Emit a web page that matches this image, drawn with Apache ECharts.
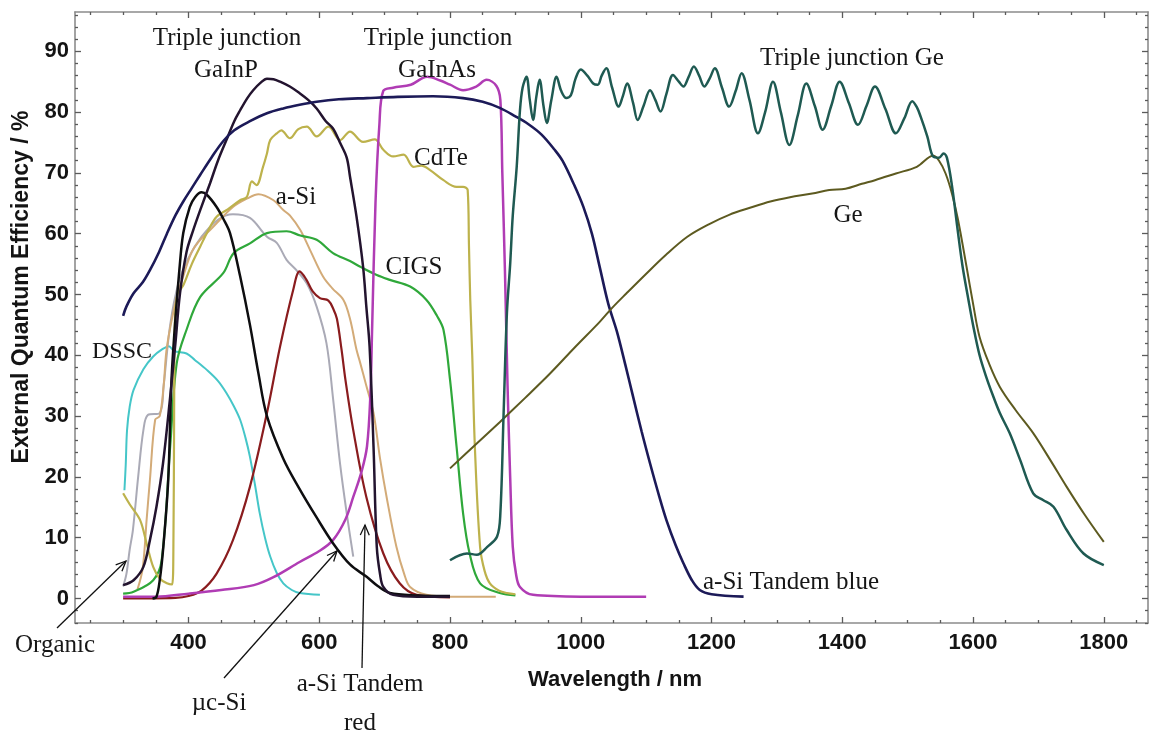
<!DOCTYPE html>
<html>
<head>
<meta charset="utf-8">
<script src="https://cdn.jsdelivr.net/npm/echarts@6/dist/echarts.min.js"></script>
<style>
  html, body { margin: 0; padding: 0; background: #ffffff; }
  #chart { width: 1153px; height: 734px; }
</style>
</head>
<body>
<div id="chart"></div>
<script>
// Axis ranges (wavelength in nm, EQE in %)
const X_MIN = 226.4, X_MAX = 1867.6;
const Y_MIN = -4.03, Y_MAX = 96.46;

// Tick positions
const xMajorTicks = [400, 600, 800, 1000, 1200, 1400, 1600, 1800];
const xMinorTicks = [250, 300, 350, 450, 500, 550, 650, 700, 750, 850, 900, 950, 1050, 1100, 1150,
  1250, 1300, 1350, 1450, 1500, 1550, 1650, 1700, 1750, 1850];
const yMajorTicks = [0, 10, 20, 30, 40, 50, 60, 70, 80, 90];
const yMinorTicks = [-4, -2, 2, 4, 6, 8, 12, 14, 16, 18, 22, 24, 26, 28, 32, 34, 36, 38, 42, 44, 46, 48,
  52, 54, 56, 58, 62, 64, 66, 68, 72, 74, 76, 78, 82, 84, 86, 88, 92, 94, 96];

// EQE spectra: [wavelength nm, EQE %]
const dssc = [[302,17.8],[304,22],[306,27.7],[310,31.5],[316,34.3],[331,37.7],[346,39.8],[360,41],[370,41.5],
  [378,40.7],[397,40.3],[410,39.2],[428,37.6],[445,35.8],[458,33.8],[470,31.5],[479,29.4],[487,26.5],[494,23.3],
  [502,18.5],[509,14],[517,10],[525,6.9],[535,4.2],[545,2.5],[558,1.4],[570,0.9],[601,0.6]];

const organic = [[300,2],[305,4],[310,8],[315,11.3],[323,20],[331,27.7],[338,30.2],[356,30.5],[362,35],[372,45],
  [385,52],[400,56],[420,59.5],[445,62.3],[468,63.2],[494,62.6],[520,59.5],[535,58.5],[550,55.7],[565,54],
  [581,51.8],[596,48],[611,42],[621,33],[632,22],[642,14],[652,6.9]];

const aSi = [[322,1.5],[330,5],[336,13],[341,19.5],[349,29.4],[356,30],[362,35],[367,41.4],[382,49.6],[392,53],
  [405,57],[418,59],[433,60.6],[450,62.5],[468,64.4],[490,65.8],[507,66.5],[530,65.5],[545,63.9],[555,63],
  [571,60.6],[586,57.3],[606,52.9],[620,51],[637,49.1],[647,46],[657,40.9],[662,39],[672,35],[683,30.5],
  [693,23],[703,16.7],[718,8.5],[730,4],[739,1.9],[764,0.6],[800,0.3],[870,0.3]];

const cigs = [[300,0.8],[316,1.1],[346,3],[359,6.3],[372,25],[382,38.7],[397,44.2],[418,49.6],[453,53.5],
  [469,56.8],[494,58.4],[520,60.1],[550,60.4],[571,59.7],[596,59],[621,56.8],[647,55.5],[662,54.6],[688,53.2],
  [708,52.4],[739,51.3],[764,49.1],[780,46.5],[790,44.2],[800,36],[810,25],[820,14],[830,7.4],[846,2.5],
  [876,0.9],[900,0.5]];

const cdte = [[300,17.3],[310,15.5],[326,12.9],[336,9],[346,5.2],[356,3.3],[367,2.5],[375,2.3],[377,10],[378,30],
  [379,45],[383,50],[392,51.5],[405,55],[418,57.9],[430,60.5],[443,62.8],[460,64],[479,65.5],[489,66],
  [497,68.6],[504,68],[514,71],[520,73.2],[525,75.4],[535,76.5],[542,77],[555,75.7],[568,77.2],[581,77.6],
  [596,76],[614,77.6],[632,75.4],[647,76.8],[667,75.1],[685,75.5],[698,73.8],[713,72.7],[729,73],[744,71],
  [756,71.2],[769,70.5],[790,68.8],[810,67.7],[820,67.7],[827,67.2],[829,58],[831,49],[834,40],[838,25],
  [846,8.5],[853,4.5],[861,2.5],[875,1.3],[887,0.9],[900,0.7]];

const aSiTandemRed = [[300,0],[380,0.1],[400,0.4],[420,1.3],[443,4.1],[468,9.6],[494,18.4],[520,30.5],[540,41.4],
  [560,50.7],[570,53.8],[580,52.5],[590,50.5],[601,49.4],[614,49],[622,47.5],[627,46],[634,41],[640,36],
  [652,27.7],[672,16.7],[698,7.4],[723,2.5],[749,0.6],[800,0.2]];

const gaInAs = [[300,0.3],[350,0.3],[400,0.8],[450,1.4],[500,2.2],[530,3.5],[570,6],[600,7.8],[621,9.6],[640,13],
  [652,16.7],[665,21],[673,25],[678,33],[681,45],[686,65],[692,78],[698,83.5],[713,84],[740,84.5],[765,85.8],
  [785,85.2],[800,84.5],[820,83.6],[840,84.2],[856,85.3],[871,84.3],[877,82],[880,70],[884,54],[888,35],
  [892,20],[896,8.5],[901,4],[907,1.9],[927,0.6],[1000,0.3],[1100,0.3]];

const ucSi = [[345,0],[351,0.3],[356,3],[361.5,8.5],[369,19.5],[374,35.9],[380,46],[386,54],[392,60.1],[402,64.4],
  [410,66],[420,66.8],[428,66.4],[443,64.4],[453,62.5],[463.5,60.1],[479,53],[494,45],[507,37],[520,30],
  [545,23],[570,18],[595,13.5],[621,9.1],[647,5.6],[672,3.6],[690,2],[708,0.9],[750,0.5],[800,0.4]];

const gaInP = [[300,2.2],[316,3],[331,5.2],[341,9.6],[351,15.1],[361,22.2],[372,33.2],[380,42],[387,50.2],[397,57],
  [407,60.5],[420,64.5],[433,68.3],[445,72],[458,75.4],[470,78.5],[479,80.3],[490,82.3],[499,83.6],[510,84.8],
  [520,85.5],[530,85.4],[540,85],[555,84.2],[570,83.1],[583,82],[596,80.6],[610,78.5],[621,77.3],[632,74.9],
  [642,72.5],[647,69.4],[657,62.8],[667,54.6],[672,48],[677,41.4],[683,25],[688,8.5],[693,4],[698,1.9],
  [713,0.6],[750,0.3],[800,0.3]];

const aSiTandemBlue = [[300,46.5],[305,48],[316,50.2],[330,52],[341,54],[355,57],[367,60],[380,63],[392,65.3],
  [405,67.5],[418,69.7],[435,72.5],[453,75.2],[470,77],[494,78.5],[520,79.8],[545,80.6],[570,81.2],[596,81.7],
  [630,82.1],[673,82.3],[720,82.5],[774,82.6],[820,82.3],[850,81.7],[876,80.7],[900,79.3],[920,78],[940,76.3],
  [960,73.8],[972,72],[990,68],[1004,64.4],[1017,60],[1029,54.5],[1042,48.5],[1055,44],[1068,38.5],[1080,33.2],
  [1093,27.5],[1106,22.2],[1120,16.8],[1131,12.9],[1145,8.8],[1157,5.8],[1170,3],[1182,1.4],[1200,0.7],[1249,0.3]];

const ge = [[800,21.4],[838,25.2],[876,29],[915,33],[953,37],[990,41.2],[1029,45.5],[1048,47.8],[1070,50.2],
  [1099,53.3],[1130,56.5],[1163,59.5],[1195,61.5],[1227,63.1],[1260,64.3],[1290,65.3],[1320,66],[1354,66.6],
  [1380,67.2],[1405,67.4],[1430,68.2],[1450,68.8],[1482,69.9],[1514,71],[1539,72.8],[1548,72],[1558,69.9],
  [1568,66.5],[1577,62.3],[1590,54.6],[1600,48.5],[1610,43],[1625,38.5],[1641,34.8],[1665,31],[1692,27.2],
  [1718,22.8],[1743,18.4],[1770,13.9],[1800,9.3]];

const tripleGe = [[800,6.3],[826,7.4],[841,7.2],[857,8.5],[872,10.2],[877,14],[882,30.5],[887,46.9],[892,55],
  [896,63],[902,71],[907,80.3],[911,84],[917,85.8],[922,82],[927,78.7],[932,82.5],[937,85.3],[943,81],
  [948,78.2],[955,82],[963,85.8],[970,83.5],[978,82.3],[985,82.8],[992,85.5],[1000,87],[1010,86],[1019,84.7],
  [1026,84.5],[1032,86],[1039,87.2],[1048,84],[1058,80.9],[1064,82.5],[1071,84.7],[1080,81.5],[1087,78.7],
  [1096,81],[1106,83.6],[1114,82],[1122,80.1],[1131,83],[1141,86.1],[1150,85],[1157,84.2],[1165,85.8],
  [1173,87.5],[1181,86],[1189,84.2],[1197,85.5],[1205,87.2],[1216,84],[1227,80.9],[1237,83.5],[1246,86.4],
  [1258,82],[1271,76.5],[1282,80],[1294,85],[1306,80],[1319,74.6],[1332,79.5],[1345,84.7],[1358,81],
  [1370,77.1],[1383,81],[1396,85],[1410,81.5],[1424,77.9],[1437,81],[1450,84.2],[1466,80.5],[1482,76.5],
  [1495,79],[1507,81.8],[1514,80.8],[1520,79.2],[1530,76],[1539,72.7],[1548,72.5],[1555,73.2],[1560,72.5],
  [1568,67.7],[1576,61],[1584,54.6],[1593,49.1],[1600,45],[1610,40],[1620,36.5],[1630,33.5],[1641,30.5],
  [1656,27.2],[1672,22.8],[1692,17.3],[1707,16.2],[1723,15.1],[1743,11.3],[1769,7.4],[1800,5.5]];

// Series styling: name, data, colour, width
const curves = [
  ['DSSC', dssc, '#45c6c8', 2],
  ['Organic', organic, '#aaaab6', 2],
  ['a-Si', aSi, '#d3ab78', 2],
  ['CIGS', cigs, '#2fa83a', 2.2],
  ['CdTe', cdte, '#bdb24c', 2.2],
  ['a-Si Tandem red', aSiTandemRed, '#8a1c1e', 2.2],
  ['Triple junction GaInAs', gaInAs, '#b03cb4', 2.5],
  ['µc-Si', ucSi, '#0e0e10', 2.5],
  ['Triple junction GaInP', gaInP, '#23142f', 2.5],
  ['a-Si Tandem blue', aSiTandemBlue, '#1c1a58', 2.6],
  ['Ge', ge, '#5d5a20', 2],
  ['Triple junction Ge', tripleGe, '#1f5a52', 2.5]
];

const GRID = { left: 75, right: 5, top: 12, bottom: 111 };
const frameColor = '#8c8c8c';
const tickColor = '#5a5a5a';
const tickFont = { fontSize: 22, fontWeight: 'bold', color: '#141414', fontFamily: 'Liberation Sans, Arial, sans-serif',
  formatter: (v) => String(v) };

function xAxisDef(gridIndex, position, ticks, len, withLabels, withLine) {
  return {
    type: 'value', gridIndex, position, min: X_MIN, max: X_MAX,
    axisLine: { show: withLine, onZero: false, lineStyle: { color: frameColor, width: 1.6 } },
    axisTick: { show: true, inside: true, length: len, customValues: ticks, lineStyle: { color: tickColor, width: 1.3 } },
    axisLabel: withLabels ? Object.assign({ show: true, margin: 9, customValues: ticks }, tickFont) : { show: false },
    splitLine: { show: false }
  };
}
function yAxisDef(gridIndex, position, ticks, len, withLabels, withLine) {
  return {
    type: 'value', gridIndex, position, min: Y_MIN, max: Y_MAX,
    axisLine: { show: withLine, onZero: false, lineStyle: { color: frameColor, width: 1.6 } },
    axisTick: { show: true, inside: true, length: len, customValues: ticks, lineStyle: { color: tickColor, width: 1.3 } },
    axisLabel: withLabels ? Object.assign({ show: true, margin: 6, customValues: ticks }, tickFont) : { show: false },
    splitLine: { show: false }
  };
}

const serif = '"Liberation Serif", "Times New Roman", serif';
function label(text, x, y, size, align) {
  return {
    type: 'text', x, y, silent: true, z: 100,
    style: { text, font: (size || 25) + 'px ' + serif, fill: '#161616', align: align || 'center', verticalAlign: 'middle' }
  };
}
function arrow(x1, y1, x2, y2) {
  const ang = Math.atan2(y2 - y1, x2 - x1);
  const L = 11, spread = 0.42;
  const p1 = [x2 - L * Math.cos(ang - spread), y2 - L * Math.sin(ang - spread)];
  const p2 = [x2 - L * Math.cos(ang + spread), y2 - L * Math.sin(ang + spread)];
  return [
    { type: 'line', silent: true, z: 100, shape: { x1, y1, x2, y2 }, style: { stroke: '#111', lineWidth: 1.3 } },
    { type: 'polyline', silent: true, z: 100, shape: { points: [p1, [x2, y2], p2] }, style: { stroke: '#111', lineWidth: 1.3, fill: null } }
  ];
}

const graphics = [
  label('Triple junction', 227, 38), label('GaInP', 226, 70),
  label('Triple junction', 438, 38), label('GaInAs', 437, 70),
  label('Triple junction Ge', 852, 58),
  label('CdTe', 441, 158), label('a-Si', 296, 197), label('CIGS', 414, 267),
  label('Ge', 848, 215), label('DSSC', 122, 352, 24),
  label('a-Si Tandem blue', 703, 582, 25, 'left'),
  label('Organic', 55, 645), label('µc-Si', 219, 703),
  label('a-Si Tandem', 360, 684), label('red', 360, 723),
  // axis titles
  { type: 'text', x: 615, y: 680, silent: true,
    style: { text: 'Wavelength / nm', font: 'bold 22px "Liberation Sans", Arial, sans-serif', fill: '#141414', align: 'center', verticalAlign: 'middle' } },
  { type: 'text', x: 22, y: 287, rotation: Math.PI / 2, silent: true,
    style: { text: 'External Quantum Efficiency / %', font: 'bold 23px "Liberation Sans", Arial, sans-serif', fill: '#141414', align: 'center', verticalAlign: 'middle' } }
].concat(arrow(57, 628, 126, 561), arrow(224, 678, 337, 551), arrow(362, 668, 365, 525));

const chart = echarts.init(document.getElementById('chart'), null, { renderer: 'canvas' });
chart.setOption({
  backgroundColor: '#ffffff',
  animation: false,
  grid: [
    Object.assign({ outerBoundsMode: 'none' }, GRID),
    Object.assign({ outerBoundsMode: 'none' }, GRID)
  ],
  xAxis: [
    xAxisDef(0, 'bottom', xMajorTicks, 6, true, true),
    xAxisDef(0, 'top', xMajorTicks, 6, false, true),
    xAxisDef(1, 'bottom', xMinorTicks, 3, false, false),
    xAxisDef(1, 'top', xMinorTicks, 3, false, false)
  ],
  yAxis: [
    yAxisDef(0, 'left', yMajorTicks, 6, true, true),
    yAxisDef(0, 'right', yMajorTicks, 6, false, true),
    yAxisDef(1, 'left', yMinorTicks, 3, false, false),
    yAxisDef(1, 'right', yMinorTicks, 3, false, false)
  ],
  series: curves.map(([name, data, color, width]) => ({
    name, type: 'line', xAxisIndex: 0, yAxisIndex: 0, data,
    showSymbol: false, smooth: 0.35, silent: true, clip: true,
    lineStyle: { color, width }
  })),
  graphic: graphics
});
</script>
</body>
</html>
